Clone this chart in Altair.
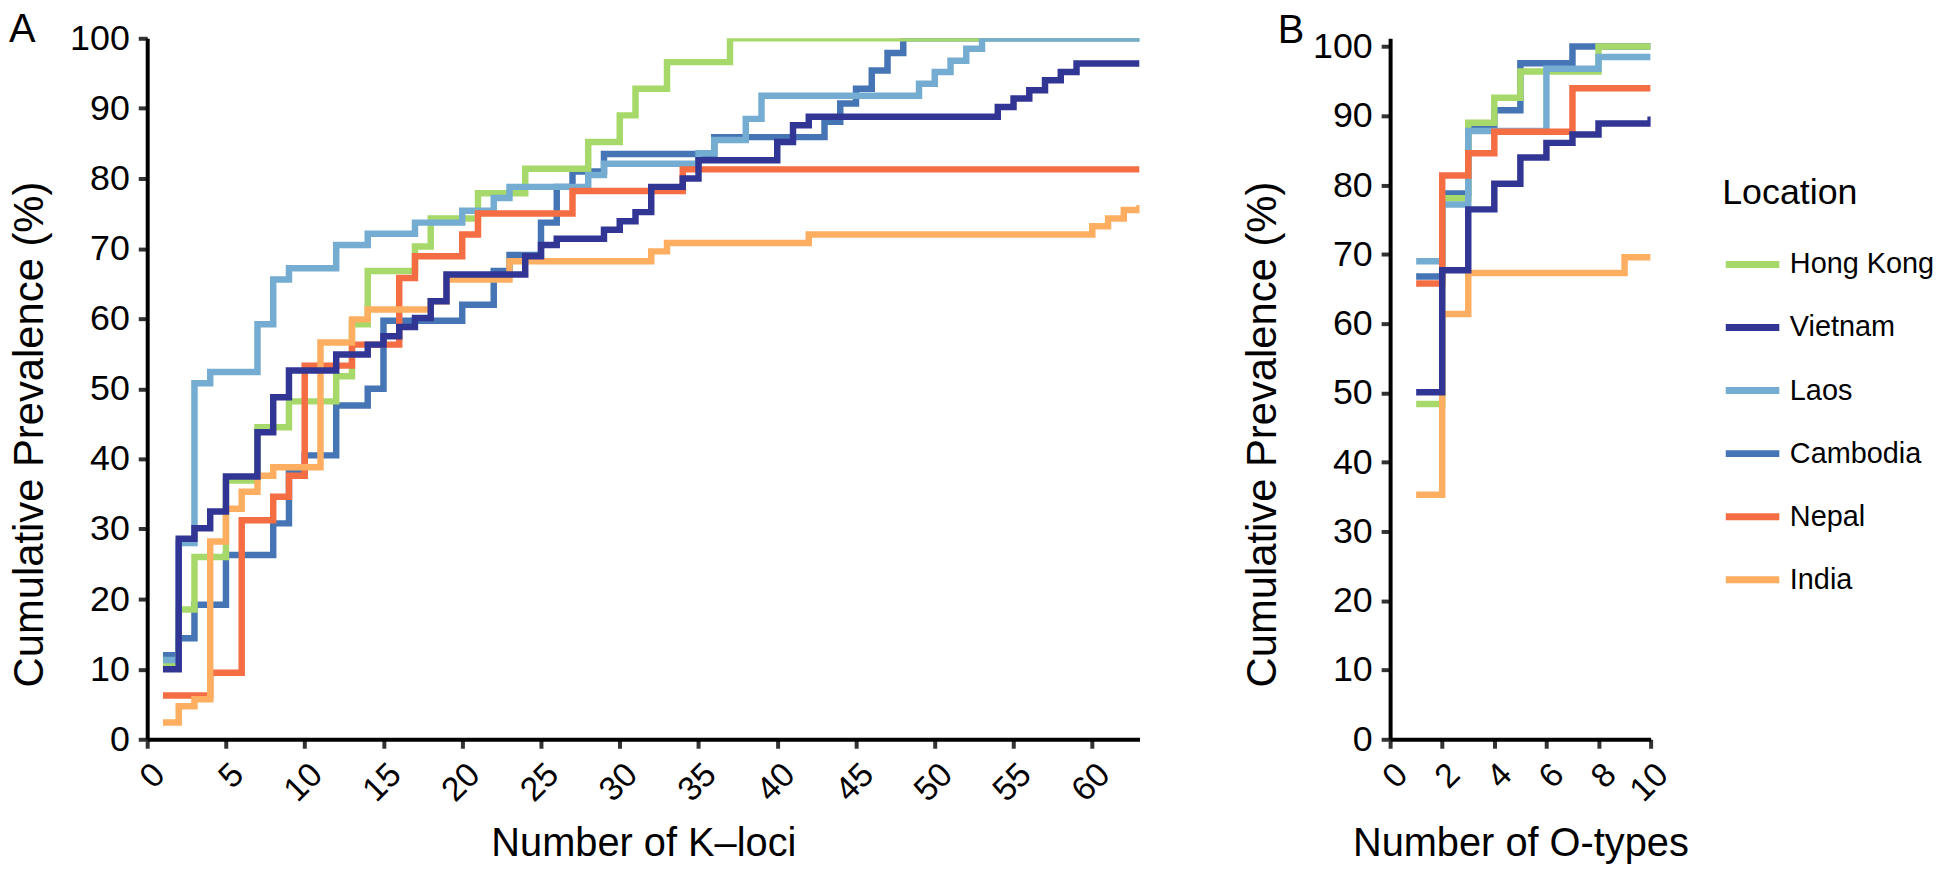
import altair as alt
import pandas as pd

FONT = "Liberation Sans"

LOCATIONS = ["Hong Kong", "Vietnam", "Laos", "Cambodia", "Nepal", "India"]
COLORS = ["#a6d96a", "#313695", "#74add1", "#4575b4", "#f46d43", "#fdae61"]
DRAW_ORDER = ["Cambodia", "Hong Kong", "Laos", "Nepal", "India", "Vietnam"]

# ---------------- Panel A: cumulative prevalence vs number of K-loci (step change points)
a_hong_kong_k = [1, 2, 3, 5, 7, 9, 12, 13, 14, 17, 18, 21, 24, 28, 30, 31, 33, 37, 63]
a_hong_kong_v = [10.8, 18.5, 26.0, 36.9, 44.5, 48.2, 51.8, 59.2, 66.8, 70.3, 74.3, 77.9, 81.4, 85.2, 89.0, 92.8, 96.6, 100, 100]

a_vietnam_k = [1, 2, 3, 4, 5, 7, 8, 9, 12, 14, 15, 16, 17, 18, 19, 24, 25, 26, 29, 30, 31, 32, 34, 35, 40, 41, 42, 54, 55, 56, 57, 58, 59, 63]
a_vietnam_v = [10.0, 28.6, 30.1, 32.5, 37.5, 43.8, 48.8, 52.6, 54.9, 56.3, 57.5, 58.8, 60.1, 62.5, 66.3, 68.9, 70.5, 71.4, 72.7, 73.9, 75.2, 78.8, 80.0, 82.6, 85.2, 87.6, 88.8, 90.2, 91.4, 92.6, 94.0, 95.2, 96.4, 96.4]

a_laos_k = [1, 2, 3, 4, 7, 8, 9, 12, 14, 17, 20, 22, 23, 28, 29, 35, 36, 38, 39, 49, 50, 51, 52, 53, 63]
a_laos_v = [11.3, 28.0, 50.8, 52.4, 59.2, 65.6, 67.2, 70.5, 72.1, 73.7, 75.4, 77.2, 78.8, 80.5, 82.1, 83.6, 85.5, 88.5, 91.8, 93.5, 95.2, 96.8, 98.5, 100, 100]

a_cambodia_k = [1, 2, 3, 5, 8, 9, 10, 12, 14, 15, 20, 22, 23, 25, 26, 27, 29, 36, 43, 44, 45, 46, 47, 48, 63]
a_cambodia_v = [12.0, 14.4, 19.2, 26.3, 30.8, 38.1, 40.5, 47.6, 50.0, 59.7, 62.0, 66.8, 69.1, 73.7, 78.8, 81.0, 83.5, 85.9, 88.1, 90.7, 92.8, 95.4, 97.9, 100, 100]

a_nepal_k = [1, 4, 6, 8, 9, 10, 13, 16, 17, 20, 21, 27, 34, 63]
a_nepal_v = [6.25, 9.5, 31.25, 34.6, 37.6, 53.3, 56.3, 65.8, 68.9, 72.0, 75.0, 78.2, 81.3, 81.3]

a_india_k = [1, 2, 3, 4, 5, 6, 7, 8, 11, 13, 14, 18, 19, 23, 32, 33, 42, 60, 61, 62, 63]
a_india_v = [2.4, 4.7, 5.7, 28.2, 32.9, 35.3, 37.6, 38.8, 56.6, 59.9, 61.3, 62.5, 65.6, 68.2, 69.6, 70.8, 72.0, 73.2, 74.3, 75.5, 76.2]

# ---------------- Panel B: cumulative prevalence vs number of O-types
b_hong_kong_k = [1, 2, 3, 4, 5, 8, 10]
b_hong_kong_v = [48.4, 78.1, 89.0, 92.6, 96.4, 100, 100]

b_vietnam_k = [1, 2, 3, 4, 5, 6, 7, 8, 10]
b_vietnam_v = [50.1, 67.7, 76.5, 80.2, 84.0, 86.1, 87.3, 88.9, 89.9]

b_laos_k = [1, 2, 3, 6, 8, 10]
b_laos_v = [69.0, 77.2, 87.8, 96.8, 98.5, 98.5]

b_cambodia_k = [1, 2, 3, 4, 5, 7, 10]
b_cambodia_v = [66.8, 78.8, 88.3, 90.8, 97.6, 100, 100]

b_nepal_k = [1, 2, 3, 4, 7, 10]
b_nepal_v = [65.8, 81.4, 84.6, 87.7, 94.0, 94.0]

b_india_k = [1, 2, 3, 9, 10]
b_india_v = [35.3, 61.4, 67.3, 69.6, 69.6]

x_ticks_a = [0, 5, 10, 15, 20, 25, 30, 35, 40, 45, 50, 55, 60]
x_ticks_b = [0, 2, 4, 6, 8, 10]
y_ticks = [0, 10, 20, 30, 40, 50, 60, 70, 80, 90, 100]


def make_df(series):
    rows = []
    for loc, (ks, vs) in series.items():
        for k, v in zip(ks, vs):
            rows.append({"Location": loc, "k": k, "v": v})
    return pd.DataFrame(rows)


df_a = make_df({
    "Hong Kong": (a_hong_kong_k, a_hong_kong_v),
    "Vietnam": (a_vietnam_k, a_vietnam_v),
    "Laos": (a_laos_k, a_laos_v),
    "Cambodia": (a_cambodia_k, a_cambodia_v),
    "Nepal": (a_nepal_k, a_nepal_v),
    "India": (a_india_k, a_india_v),
})
df_b = make_df({
    "Hong Kong": (b_hong_kong_k, b_hong_kong_v),
    "Vietnam": (b_vietnam_k, b_vietnam_v),
    "Laos": (b_laos_k, b_laos_v),
    "Cambodia": (b_cambodia_k, b_cambodia_v),
    "Nepal": (b_nepal_k, b_nepal_v),
    "India": (b_india_k, b_india_v),
})


def panel(df, xmax, ymax, xticks, xtitle, width, height, letter, letter_dx, letter_offset,
          ytitle_pad, legend):
    color = alt.Color("Location:N",
                      scale=alt.Scale(domain=LOCATIONS, range=COLORS),
                      legend=legend)
    x = alt.X("k:Q", title=xtitle,
              scale=alt.Scale(domain=[0, xmax], nice=False, zero=False),
              axis=alt.Axis(values=xticks, labelAngle=315, labelAlign="right",
                            labelBaseline="top", labelFontSize=34, labelPadding=9,
                            titleFontSize=40, titlePadding=16))
    y = alt.Y("v:Q", title="Cumulative Prevalence (%)",
              scale=alt.Scale(domain=[0, ymax], nice=False),
              axis=alt.Axis(values=y_ticks, labelFontSize=36, labelPadding=9,
                            titleFontSize=42, titlePadding=ytitle_pad,
                            titleY=398))
    layers = [
        alt.Chart(df)
        .transform_filter(alt.datum.Location == loc)
        .mark_line(interpolate="step-after", strokeWidth=6.5, clip=True)
        .encode(x=x, y=y, color=color)
        for loc in DRAW_ORDER
    ]
    return alt.layer(*layers).properties(
        width=width, height=height,
        title=alt.TitleParams(letter, anchor="start", frame="group", dx=letter_dx,
                              offset=letter_offset, fontSize=40,
                              fontWeight="normal", font=FONT, color="black"),
    )


legend_b = alt.Legend(
    title="Location", orient="none", legendX=334, legendY=139,
    symbolType="stroke", symbolStrokeWidth=7, symbolSize=2900,
    labelFontSize=29, titleFontSize=36, titleFontWeight="normal",
    labelOffset=7, rowPadding=17.4, titlePadding=22,
    labelFont=FONT, titleFont=FONT, labelColor="black", titleColor="black",
)

panel_a = panel(df_a, 63, 100, x_ticks_a, "Number of K\u2013loci", 998, 705,
                "A", -139, -30, 18, None)
panel_b = panel(df_b, 10, 101.2, x_ticks_b, "Number of O-types", 262, 705,
                "B", -113, -22, 28, legend_b)

chart = (
    alt.hconcat(panel_a, panel_b, spacing=102)
    .resolve_scale(color="independent")
    .properties(padding=0)
    .configure_view(stroke=None)
    .configure_axis(grid=False, domainColor="black", domainWidth=4,
                    tickColor="#333333", tickWidth=4, tickSize=9,
                    labelColor="black", titleColor="black",
                    labelFont=FONT, titleFont=FONT, titleFontWeight="normal")
)

chart.save("out.html", embed_options={"renderer": "svg", "actions": False})
